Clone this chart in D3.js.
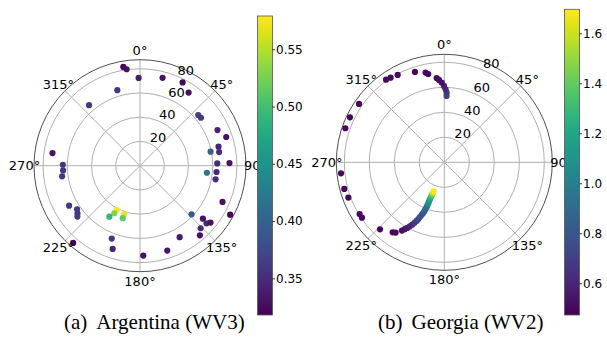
<!DOCTYPE html>
<html>
<head>
<meta charset="utf-8">
<script src="https://cdn.jsdelivr.net/npm/d3@7"></script>
<style>
  body { margin: 0; background: #fff; }
  svg { display: block; }
</style>
</head>
<body>
<div id="chart"></div>
<script>
// Argentina (WV3): angle in degrees, radius, colour value
const argTheta = [350.4, 352.1, 359.1, 14.4, 27.1, 33.6, 343.3, 319.9, 49.0, 51.8,
  65.3, 71.6, 76.4, 78.8, 80.2, 88.3, 88.3, 96.0, 94.7, 100.2,
  113.7, 118.5, 133.3, 130.1, 130.9, 128.9, 135.9, 139.3, 151.0, 162.2,
  177.9, 201.2, 198.2, 220.9, 240.6, 235.3, 232.7, 230.9, 262.2, 266.5,
  270.7, 278.2, 207.7, 197.9, 208.4, 211.0, 198.2];
const argR = [82.7, 80.4, 72.5, 74.9, 77.2, 72.5, 65.1, 65.3, 63.7, 64.0,
  70.4, 75.0, 66.7, 59.4, 66.3, 63.8, 73.9, 55.5, 63.4, 63.4,
  74.4, 84.7, 58.5, 67.9, 72.6, 74.8, 71.9, 75.8, 67.5, 73.6,
  74.2, 64.5, 72.3, 84.3, 67.2, 63.2, 64.9, 66.6, 64.9, 63.6,
  63.7, 73.0, 41.3, 42.1, 44.6, 49.1, 45.6];
const argValue = [0.325, 0.33, 0.34, 0.33, 0.325, 0.33, 0.36, 0.36, 0.365, 0.36,
  0.345, 0.33, 0.345, 0.40, 0.35, 0.35, 0.33, 0.42, 0.35, 0.35,
  0.33, 0.32, 0.39, 0.33, 0.345, 0.33, 0.35, 0.33, 0.335, 0.335,
  0.33, 0.36, 0.345, 0.32, 0.36, 0.36, 0.36, 0.36, 0.36, 0.36,
  0.36, 0.33, 0.575, 0.57, 0.53, 0.49, 0.515];

// Georgia (WV2)
const geoTheta = [2.0, 1.9, 1.0, 359.75, 358.1, 356.3, 354.8, 349.7, 348.2, 342.0,
  331.9, 327.6, 324.8, 304.4, 295.5, 289.0, 263.9, 255.1, 249.8, 238.6,
  236.1, 223.8, 216.4, 214.7, 211.8, 210.6, 209.4, 208.3, 207.2, 206.2,
  205.3, 204.6, 204.0, 203.3, 202.7, 202.2, 201.8, 201.5, 201.3, 201.3,
  201.3, 201.1, 200.9, 200.7, 200.6, 200.4, 200.2];
const geoR = [53.1, 55.8, 58.4, 61.1, 63.8, 66.0, 67.7, 71.8, 73.3, 76.0,
  79.2, 80.2, 80.9, 82.7, 83.6, 83.7, 83.1, 82.8, 81.8, 79.4,
  79.4, 74.3, 69.6, 68.4, 64.3, 62.2, 60.3, 58.2, 56.1, 54.0,
  51.9, 49.9, 47.9, 46.0, 44.2, 42.2, 40.2, 38.1, 36.1, 34.2,
  32.3, 30.7, 29.1, 27.8, 26.5, 25.6, 24.7];
const geoValue = [0.72, 0.68, 0.62, 0.58, 0.53, 0.52, 0.51, 0.5, 0.5, 0.5,
  0.5, 0.5, 0.5, 0.5, 0.5, 0.5, 0.5, 0.5, 0.5, 0.5,
  0.5, 0.5, 0.5, 0.5, 0.52, 0.54, 0.56, 0.59, 0.62, 0.66,
  0.70, 0.73, 0.76, 0.78, 0.80, 0.84, 0.88, 0.94, 1.0, 1.08,
  1.15, 1.22, 1.3, 1.4, 1.5, 1.6, 1.68];

const rTicks = [20, 40, 60, 80];
const thetaTicks = [0, 45, 90, 135, 180, 225, 270, 315];
const argCbTicks = [0.35, 0.40, 0.45, 0.50, 0.55];
const geoCbTicks = [0.6, 0.8, 1.0, 1.2, 1.4, 1.6];
const captions = ['(a)', 'Argentina (WV3)', '(b)', 'Georgia (WV2)'];

const width = 607;
const height = 349;

const svg = d3.select('#chart')
  .append('svg')
  .attr('width', width)
  .attr('height', height)
  .style('font-family', '"DejaVu Sans", sans-serif');

const defs = svg.append('defs');
const grad = defs.append('linearGradient')
  .attr('id', 'viridis')
  .attr('x1', 0).attr('y1', 1).attr('x2', 0).attr('y2', 0);
d3.range(0, 1.0001, 0.05).forEach(t => {
  grad.append('stop')
    .attr('offset', (t * 100) + '%')
    .attr('stop-color', d3.interpolateViridis(t));
});

const angle = d3.scaleLinear().domain([0, 360]).range([0, 2 * Math.PI]);

function drawPolar(cx, cy, radius, rMax, thetas, rs, values, vmin, vmax) {
  const r = d3.scaleLinear().domain([0, rMax]).range([0, radius]);
  const color = d3.scaleSequential(d3.interpolateViridis).domain([vmin, vmax]);
  const g = svg.append('g').attr('transform', 'translate(' + cx + ',' + cy + ')');
  const px = (t, v) => r(v) * Math.sin(angle(t));
  const py = (t, v) => -r(v) * Math.cos(angle(t));

  g.selectAll('.ring')
    .data(rTicks)
    .enter()
    .append('circle')
    .attr('r', d => r(d))
    .attr('fill', 'none')
    .attr('stroke', '#b0b0b0')
    .attr('stroke-width', 1);

  g.selectAll('.spoke')
    .data(thetaTicks)
    .enter()
    .append('line')
    .attr('x1', 0).attr('y1', 0)
    .attr('x2', d => px(d, rMax))
    .attr('y2', d => py(d, rMax))
    .attr('stroke', '#b0b0b0')
    .attr('stroke-width', 1);

  g.append('circle')
    .attr('r', radius)
    .attr('fill', 'none')
    .attr('stroke', '#222')
    .attr('stroke-width', 0.8);

  const pts = d3.range(thetas.length);
  g.selectAll('.dot')
    .data(pts)
    .enter()
    .append('circle')
    .attr('cx', i => px(thetas[i], rs[i]))
    .attr('cy', i => py(thetas[i], rs[i]))
    .attr('r', 3.1)
    .attr('fill', i => color(values[i]));

  g.selectAll('.rlabel')
    .data(rTicks)
    .enter()
    .append('text')
    .attr('x', d => px(22.5, d) + 0.5)
    .attr('y', d => py(22.5, d) - 1.5)
    .attr('font-size', 13)
    .attr('fill', '#000')
    .text(d => d);

  g.selectAll('.tlabel')
    .data(thetaTicks)
    .enter()
    .append('text')
    .attr('x', d => (radius + 9.5) * Math.sin(angle(d)))
    .attr('y', d => -(radius + 9.5) * Math.cos(angle(d)))
    .attr('text-anchor', 'middle')
    .attr('dominant-baseline', 'central')
    .attr('font-size', 13)
    .attr('fill', '#000')
    .text(d => d + '°');
}

function drawColorbar(x, y0, y1, vmin, vmax, ticks, fmt) {
  const s = d3.scaleLinear().domain([vmin, vmax]).range([y1, y0]);
  const w = 15;
  svg.append('rect')
    .attr('x', x).attr('y', y0)
    .attr('width', w).attr('height', y1 - y0)
    .attr('fill', 'url(#viridis)')
    .attr('stroke', '#555')
    .attr('stroke-width', 0.8);
  const axis = d3.axisRight(s)
    .tickValues(ticks)
    .tickSize(2.5)
    .tickPadding(1)
    .tickFormat(d3.format(fmt));
  const ax = svg.append('g')
    .attr('transform', 'translate(' + (x + w) + ',0)')
    .call(axis);
  ax.select('.domain').remove();
  ax.selectAll('text')
    .attr('font-size', 12)
    .attr('font-family', '"DejaVu Sans", sans-serif')
    .attr('fill', '#000');
  ax.selectAll('line').attr('stroke', '#000').attr('stroke-width', 0.8);
}

drawPolar(140, 165.7, 106, 87.5, argTheta, argR, argValue, 0.318, 0.579);
drawColorbar(257.5, 16, 315, 0.318, 0.579, argCbTicks, '.2f');

drawPolar(444.3, 162.3, 108, 86.4, geoTheta, geoR, geoValue, 0.473, 1.696);
drawColorbar(564.5, 9.3, 315, 0.473, 1.696, geoCbTicks, '.1f');

const cap = svg.append('g')
  .attr('font-family', '"Liberation Serif", "Times New Roman", serif')
  .attr('font-size', 21)
  .attr('fill', '#000');
const capA = cap.append('text').attr('x', 64).attr('y', 329);
capA.append('tspan').text(captions[0]);
capA.append('tspan').attr('dx', 9).text(captions[1]);
const capB = cap.append('text').attr('x', 378).attr('y', 329);
capB.append('tspan').text(captions[2]);
capB.append('tspan').attr('dx', 9).text(captions[3]);
</script>
</body>
</html>
